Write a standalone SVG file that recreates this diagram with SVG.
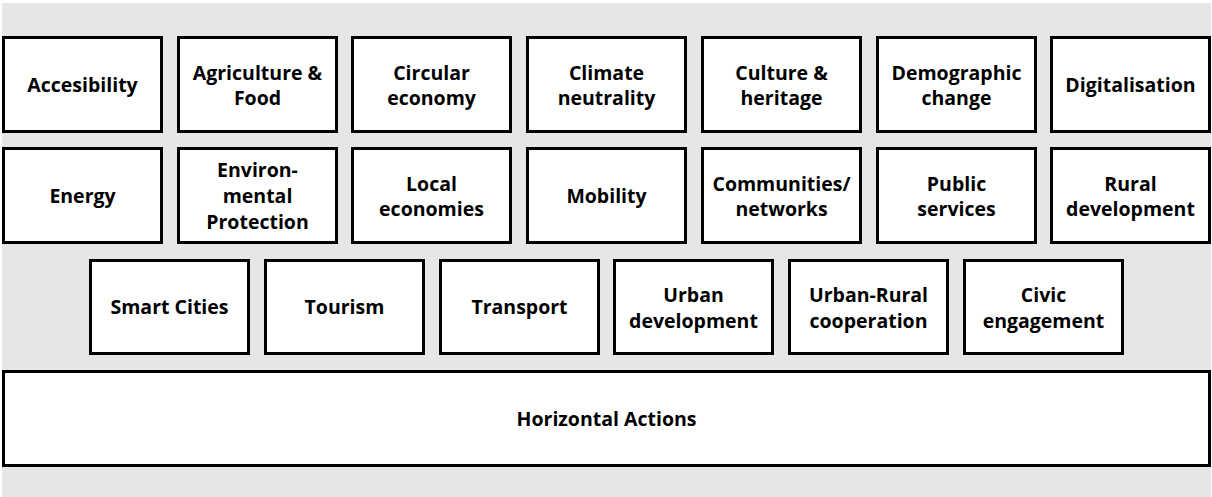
<svg xmlns="http://www.w3.org/2000/svg" width="1212" height="497" viewBox="0 0 1212 497">
<style>
.bg{fill:#e6e6e6}
.box{fill:#fff;stroke:#000;stroke-width:3}
.t{font-family:"Open Sans","Liberation Sans",sans-serif;font-weight:bold;font-size:19.5px;fill:#000;text-anchor:middle}
</style>
<rect class="bg" x="2" y="3" width="1209" height="494"/>
<g id="n-accesibility"><rect class="box" x="3.5" y="37.5" width="158" height="94"/><text class="t" x="82.5" y="91.5">Accesibility</text></g>
<g id="n-agriculture"><rect class="box" x="178.5" y="37.5" width="158" height="94"/><text class="t" x="257.5" y="79.5">Agriculture &amp;</text><text class="t" x="257.5" y="104.5">Food</text></g>
<g id="n-circular"><rect class="box" x="352.5" y="37.5" width="158" height="94"/><text class="t" x="431.5" y="79.5">Circular</text><text class="t" x="431.5" y="104.5">economy</text></g>
<g id="n-climate"><rect class="box" x="527.5" y="37.5" width="158" height="94"/><text class="t" x="606.5" y="79.5">Climate</text><text class="t" x="606.5" y="104.5">neutrality</text></g>
<g id="n-culture"><rect class="box" x="702.5" y="37.5" width="158" height="94"/><text class="t" x="781.5" y="79.5">Culture &amp;</text><text class="t" x="781.5" y="104.5">heritage</text></g>
<g id="n-demographic"><rect class="box" x="877.5" y="37.5" width="158" height="94"/><text class="t" x="956.5" y="79.5">Demographic</text><text class="t" x="956.5" y="104.5">change</text></g>
<g id="n-digitalisation"><rect class="box" x="1051.5" y="37.5" width="158" height="94"/><text class="t" x="1130.5" y="91.5">Digitalisation</text></g>

<g id="n-energy"><rect class="box" x="3.5" y="148.5" width="158" height="94"/><text class="t" x="82.5" y="202.5">Energy</text></g>
<g id="n-environmental"><rect class="box" x="178.5" y="148.5" width="158" height="94"/><text class="t" x="257.5" y="177">Environ-</text><text class="t" x="257.5" y="203">mental</text><text class="t" x="257.5" y="229">Protection</text></g>
<g id="n-local"><rect class="box" x="352.5" y="148.5" width="158" height="94"/><text class="t" x="431.5" y="190.5">Local</text><text class="t" x="431.5" y="215.5">economies</text></g>
<g id="n-mobility"><rect class="box" x="527.5" y="148.5" width="158" height="94"/><text class="t" x="606.5" y="202.5">Mobility</text></g>
<g id="n-communities"><rect class="box" x="702.5" y="148.5" width="158" height="94"/><text class="t" x="781.5" y="190.5">Communities/</text><text class="t" x="781.5" y="215.5">networks</text></g>
<g id="n-public"><rect class="box" x="877.5" y="148.5" width="158" height="94"/><text class="t" x="956.5" y="190.5">Public</text><text class="t" x="956.5" y="215.5">services</text></g>
<g id="n-rural"><rect class="box" x="1051.5" y="148.5" width="158" height="94"/><text class="t" x="1130.5" y="190.5">Rural</text><text class="t" x="1130.5" y="215.5">development</text></g>

<g id="n-smart"><rect class="box" x="90.5" y="260.5" width="158" height="93"/><text class="t" x="169.5" y="314">Smart Cities</text></g>
<g id="n-tourism"><rect class="box" x="265.5" y="260.5" width="158" height="93"/><text class="t" x="344.5" y="314">Tourism</text></g>
<g id="n-transport"><rect class="box" x="440.5" y="260.5" width="158" height="93"/><text class="t" x="519.5" y="314">Transport</text></g>
<g id="n-urban"><rect class="box" x="614.5" y="260.5" width="158" height="93"/><text class="t" x="693.5" y="302">Urban</text><text class="t" x="693.5" y="327.5">development</text></g>
<g id="n-urbanrural"><rect class="box" x="789.5" y="260.5" width="158" height="93"/><text class="t" x="868.5" y="302">Urban-Rural</text><text class="t" x="868.5" y="327.5">cooperation</text></g>
<g id="n-civic"><rect class="box" x="964.5" y="260.5" width="158" height="93"/><text class="t" x="1043.5" y="302">Civic</text><text class="t" x="1043.5" y="327.5">engagement</text></g>

<g id="n-horizontal"><rect class="box" x="3.5" y="371.5" width="1206" height="94"/><text class="t" x="606.5" y="425.5">Horizontal Actions</text></g>
<g id="connectors"></g>
</svg>
